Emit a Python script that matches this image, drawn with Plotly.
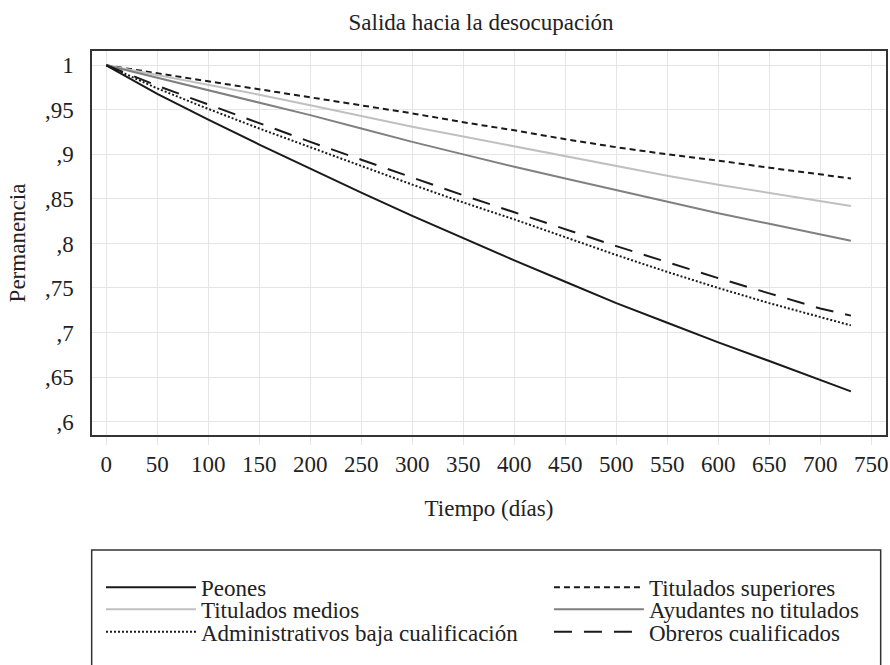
import plotly.graph_objects as go

days = [0, 50, 100, 150, 200, 250, 300, 350, 400, 450, 500, 550, 600, 650, 700, 730]

peones = [1, 0.968, 0.939, 0.911, 0.884, 0.857, 0.831, 0.806, 0.781, 0.757, 0.733, 0.711, 0.689, 0.668, 0.647, 0.634]
tit_sup = [1, 0.991, 0.982, 0.973, 0.964, 0.955, 0.946, 0.936, 0.927, 0.917, 0.908, 0.900, 0.893, 0.885, 0.878, 0.873]
tit_med = [1, 0.989, 0.978, 0.967, 0.955, 0.943, 0.931, 0.920, 0.909, 0.898, 0.887, 0.876, 0.866, 0.857, 0.848, 0.842]
ayudantes = [1, 0.986, 0.972, 0.958, 0.944, 0.929, 0.914, 0.900, 0.886, 0.873, 0.860, 0.847, 0.834, 0.822, 0.810, 0.803]
admin = [1, 0.974, 0.951, 0.929, 0.908, 0.887, 0.866, 0.846, 0.827, 0.807, 0.787, 0.768, 0.750, 0.733, 0.717, 0.708]
obreros = [1, 0.977, 0.956, 0.935, 0.914, 0.894, 0.874, 0.854, 0.835, 0.816, 0.797, 0.779, 0.761, 0.744, 0.727, 0.719]

x_ticks = list(range(0, 751, 50))
y_tickvals = [0.6, 0.65, 0.7, 0.75, 0.8, 0.85, 0.9, 0.95, 1.0]
y_ticktext = [",6", ",65", ",7", ",75", ",8", ",85", ",9", ",95", "1"]

# name, values, colour, dash, legend id
series = [
    ("Peones", peones, "#1a1a1a", "solid", "legend"),
    ("Titulados superiores", tit_sup, "#1a1a1a", "6px,4px", "legend2"),
    ("Titulados medios", tit_med, "#c0c0c0", "solid", "legend3"),
    ("Ayudantes no titulados", ayudantes, "#808080", "solid", "legend4"),
    ("Administrativos baja cualificación", admin, "#1a1a1a", "2px,2px", "legend5"),
    ("Obreros cualificados", obreros, "#1a1a1a", "18px,12px", "legend6"),
]

FONT = "Liberation Serif"
TXT = "#222"

fig = go.Figure()
for name, vals, color, dash, lg in series:
    fig.add_trace(go.Scatter(x=days, y=vals, mode="lines", name=name, legend=lg,
                             line=dict(color=color, dash=dash, width=2)))

COL_X = [0.0113, 0.5755]
ROW_Y = [-0.3966, -0.4539, -0.5122]

def leg(col, row):
    return dict(orientation="h", x=COL_X[col], xanchor="left", y=ROW_Y[row], yanchor="middle",
                font=dict(family=FONT, size=23, color=TXT), itemwidth=90,
                bgcolor="rgba(0,0,0,0)", borderwidth=0)

fig.update_layout(
    width=890, height=665,
    margin=dict(l=92, r=4, t=51, b=230, autoexpand=False),
    paper_bgcolor="white", plot_bgcolor="white",
    font=dict(family=FONT, size=23, color=TXT),
    title=dict(text="Salida hacia la desocupación", x=0.49, xref="paper",
               xanchor="center", y=0.9674, yanchor="middle",
               font=dict(family=FONT, size=23, color=TXT)),
    showlegend=True,
    legend=leg(0, 0), legend2=leg(1, 0),
    legend3=leg(0, 1), legend4=leg(1, 1),
    legend5=leg(0, 2), legend6=leg(1, 2),
)

fig.update_xaxes(range=[-14, 764.4], tickvals=x_ticks, ticktext=[str(v) for v in x_ticks],
                 showgrid=True, gridcolor="#e5e5e5", gridwidth=1,
                 ticks="outside", ticklen=8, tickcolor="#e5e5e5", tickwidth=1,
                 showline=True, linecolor="#333", linewidth=1.5, mirror=True,
                 zeroline=False, automargin=False, tickfont=dict(size=23),
                 title=dict(text="Tiempo (días)", font=dict(size=23), standoff=24))
fig.update_yaxes(range=[0.585, 1.016], tickvals=y_tickvals, ticktext=y_ticktext,
                 showgrid=True, gridcolor="#e5e5e5", gridwidth=1,
                 ticks="", ticklabelstandoff=12,
                 showline=True, linecolor="#333", linewidth=1.5, mirror=True,
                 zeroline=False, automargin=False, tickfont=dict(size=23),
                 title=dict(text="Permanencia", font=dict(size=23), standoff=13))

# legend frame (runs past the bottom of the page, as in the reference)
fig.add_shape(type="rect", xref="paper", yref="paper",
              x0=-0.0004, x1=0.9933, y0=-0.75, y1=-0.2995,
              line=dict(color="#333", width=1.5), fillcolor="rgba(0,0,0,0)")

fig.write_html("out.html", config={"displayModeBar": False},
               post_script="document.body.style.margin='0';document.body.style.overflow='hidden';")
